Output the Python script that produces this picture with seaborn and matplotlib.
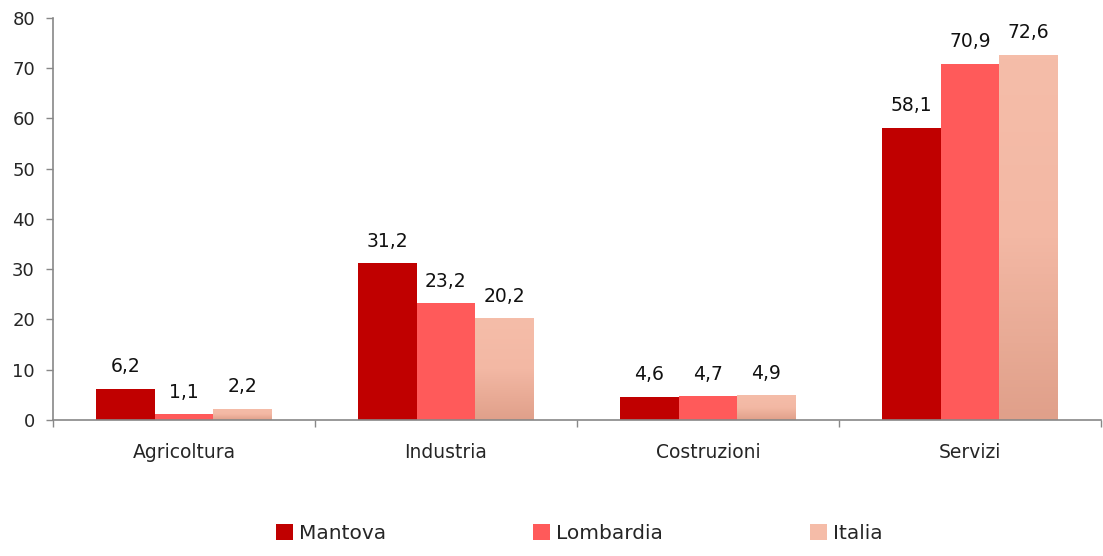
import numpy as np
import pandas as pd
import matplotlib
matplotlib.use('Agg')
import matplotlib.pyplot as plt
import seaborn as sns
from matplotlib.colors import LinearSegmentedColormap
from matplotlib.patches import Patch

# Data
categories = ['Agricoltura', 'Industria', 'Costruzioni', 'Servizi']
series = ['Mantova', 'Lombardia', 'Italia']
mantova = [6.2, 31.2, 4.6, 58.1]
lombardia = [1.1, 23.2, 4.7, 70.9]
italia = [2.2, 20.2, 4.9, 72.6]
colors = ['#C00000', '#FF5A5A', '#F5BCA8']

df = pd.DataFrame({
    'settore': categories * 3,
    'area': sum([[s] * len(categories) for s in series], []),
    'valore': mantova + lombardia + italia,
})

sns.set_theme(style='white')
plt.rcParams['font.family'] = ['DejaVu Sans']

fig = plt.figure(figsize=(11.03, 5.56), dpi=100)
ax = fig.add_axes([0.048, 0.245, 0.95, 0.723])

sns.barplot(data=df, x='settore', y='valore', hue='area', order=categories,
            hue_order=series, palette=colors, width=0.67, saturation=1,
            linewidth=0, legend=False, ax=ax)

# gradient fill for the Italia bars
grad = LinearSegmentedColormap.from_list('it', ['#E0A08A', '#F3B8A4', '#F5BDA9'])
for bar in ax.containers[2]:
    x0, y0 = bar.get_x(), bar.get_y()
    w, h = bar.get_width(), bar.get_height()
    img = ax.imshow(np.linspace(0, 1, 100).reshape(-1, 1), cmap=grad, aspect='auto',
                    origin='lower', extent=[x0, x0 + w, y0, y0 + h], zorder=bar.get_zorder())
    img.set_clip_path(bar)

# value labels with comma decimals
for cont in ax.containers:
    ax.bar_label(cont, labels=[f'{v:.1f}'.replace('.', ',') for v in cont.datavalues],
                 padding=9, fontsize=13.5, color='#111111')

ax.set_xlim(-0.5, 3.5)
ax.set_ylim(0, 80)
ax.set_yticks(range(0, 81, 10))
ax.set_xlabel('')
ax.set_ylabel('')
ax.tick_params(axis='y', labelsize=13, length=5, color='#888888', width=1, pad=8, left=True)
ax.tick_params(axis='x', labelsize=13.5, length=0, pad=17)
ax.set_xticks(np.arange(-0.5, 3.6, 1), minor=True)
ax.tick_params(axis='x', which='minor', length=5, color='#888888', width=1, bottom=True)
for s in ['top', 'right']:
    ax.spines[s].set_visible(False)
for s in ['left', 'bottom']:
    ax.spines[s].set_color('#888888')
    ax.spines[s].set_linewidth(1.2)

handles = [Patch(facecolor=c, edgecolor='none') for c in colors]
fig.legend(handles, series, loc='lower center', bbox_to_anchor=(0.525, -0.01), ncol=3,
           frameon=False, fontsize=14.5, handlelength=0.85, handleheight=0.85,
           handletextpad=0.3, columnspacing=7.3)

fig.savefig('out.png', dpi=100)
